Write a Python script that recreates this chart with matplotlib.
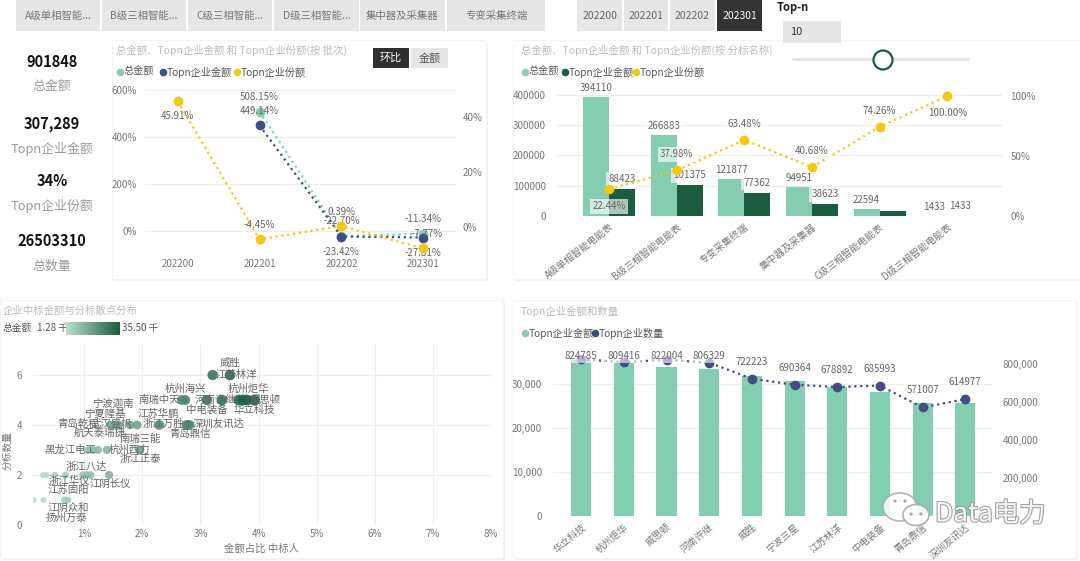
import numpy as np
import matplotlib
matplotlib.use("Agg")
import matplotlib.pyplot as plt
import matplotlib.patheffects as pe
from matplotlib.patches import Rectangle, Circle, Ellipse
from matplotlib.colors import LinearSegmentedColormap, Normalize

plt.rcParams['font.family'] = ['Noto Sans CJK SC', 'DejaVu Sans']

W, H = 1080, 561
GREEN = "#84CDB1"
DARK = "#1C5C41"
NAVY = "#404E85"
YELLOW = "#F2C811"
GRID = "#EDEDED"
TICK = "#777777"
LABEL = "#666666"

# ---- slicers / cards
category_buttons = ["A级单相智能...", "B级三相智能...", "C级三相智能...", "D级三相智能...", "集中器及采集器", "专变采集终端"]
period_buttons = ["202200", "202201", "202202", "202301"]
kpi_values = ["901848", "307,289", "34%", "26503310"]
kpi_names = ["总金额", "Topn企业金额", "Topn企业份额", "总数量"]

# ---- month over month, by period
periods = ["202200", "202201", "202202", "202301"]
mom_total = [np.nan, 508.15, -22.70, -11.34]
mom_topn = [np.nan, 449.14, -23.42, -27.81]
mom_share = [45.91, -4.45, 0.39, -7.77]

# ---- by lot
lots = ["A级单相智能电能表", "B级三相智能电能表", "专变采集终端", "集中器及采集器", "C级三相智能电能表", "D级三相智能电能表"]
lot_total = [394110, 266883, 121877, 94951, 22594, 1433]
lot_topn = [88423, 101375, 77362, 38623, 16778, 1433]
lot_share = [22.44, 37.98, 63.48, 40.68, 74.26, 100.00]

# ---- top-n firms
firms = ["华立科技", "杭州炬华", "威思顿", "河南许继", "威胜", "宁波三星", "江苏林洋", "中电装备", "青岛鼎信", "深圳友讯达"]
firm_amount = [35400, 34700, 33900, 33400, 31900, 30700, 29300, 28300, 25800, 25700]
firm_count = [824785, 809416, 822004, 806329, 722223, 690364, 678892, 685993, 571007, 614977]

# ---- scatter: share of amount (%) vs number of lots
scatter_share = [3.21, 3.51,
                 2.68, 2.74, 3.11, 3.37, 3.66, 3.73, 3.80, 3.93,
                 1.45, 1.50, 1.55, 1.60, 1.79, 1.91, 2.28, 2.30, 2.76, 2.81,
                 1.07, 1.16, 1.24, 1.39, 1.96,
                 0.29, 0.35, 0.49, 0.68, 0.98, 1.05, 1.11, 1.43,
                 0.14, 0.30, 0.66, 0.72]
scatter_lots = [6, 6,
                5, 5, 5, 5, 5, 5, 5, 5,
                4, 4, 4, 4, 4, 4, 4, 4, 4, 4,
                3, 3, 3, 3, 3,
                2, 2, 2, 2, 2, 2, 2, 2,
                1, 1, 1, 1]
scatter_names = ["江苏林洋", "威胜",
                 "南瑞中天", "杭州海兴", "中电装备", "河南许继", "杭州炬华", "宁波三星", "威思顿", "华立科技",
                 "青岛乾程", "武汉盛帆", "宁夏隆基", "宁波迦南", "航天泰瑞捷", "南瑞三能", "浙江万胜", "江苏华鹏", "青岛鼎信", "深圳友讯达",
                 "黑龙江电工", "", "", "杭州西力", "浙江正泰",
                 "", "", "", "浙江华仪", "江苏固阳", "浙江八达", "", "江阴长仪",
                 "", "", "扬州万泰", "江阴众和"]
# label placement (pixels, dx right / dy up)
label_offsets = {
    "江苏林洋": (24, 0), "威胜": (0, 12), "南瑞中天": (-23, 0), "杭州海兴": (0, 11),
    "中电装备": (0, -10), "河南许继": (-7, 0), "杭州炬华": (10, 11), "威思顿": (18, 0),
    "华立科技": (0, -10), "青岛乾程": (-32, 1), "武汉盛帆": (-2, 1), "宁夏隆基": (-11, 11),
    "宁波迦南": (-6, 21), "航天泰瑞捷": (-30, -8), "南瑞三能": (3, -14), "浙江万胜": (5, 1),
    "江苏华鹏": (-1, 11), "青岛鼎信": (4, -9), "深圳友讯达": (29, 1), "黑龙江电工": (-18, 0),
    "杭州西力": (23, 0), "浙江正泰": (0, -9), "浙江华仪": (4, -6), "江苏固阳": (-15, -15),
    "浙江八达": (-1, 8), "江阴长仪": (1, -9), "扬州万泰": (2, -18), "江阴众和": (0, -8),
}

PT = 72 / 100  # pixel -> point


def rect(x0, y0, x1, y1):
    return [x0 / W, 1 - y1 / H, (x1 - x0) / W, (y1 - y0) / H]


def clean(ax):
    for s in ax.spines.values():
        s.set_visible(False)
    ax.tick_params(length=0, colors=TICK, labelsize=7)
    ax.set_facecolor("none")


fig = plt.figure(figsize=(W / 100, H / 100), dpi=100)
fig.patch.set_facecolor("white")

bg = fig.add_axes([0, 0, 1, 1])
bg.set_xlim(0, W)
bg.set_ylim(H, 0)
bg.axis("off")

# panels
for x0, y0, x1, y1 in [(112, 40, 486, 279), (513, 40, 1080, 279), (0, 300, 503, 558), (513, 300, 1076, 558)]:
    bg.add_patch(Rectangle((x0 + 2, y0 + 2), x1 - x0, y1 - y0, fc="#F1F1F1", ec="none"))
    bg.add_patch(Rectangle((x0, y0), x1 - x0, y1 - y0, fc="white", ec="#F4F4F4", lw=0.8))

# slicer buttons
btn_x = [(16, 100), (102, 186), (188, 272), (274, 359), (360, 445), (447, 545)]
for (x0, x1), lab in zip(btn_x, category_buttons):
    bg.add_patch(Rectangle((x0, 0), x1 - x0, 31, fc="#E6E6E6", ec="none"))
    bg.text((x0 + x1) / 2, 16, lab, ha="center", va="center", fontsize=7.5, color="#777777", style="italic")
per_x = [(577, 622), (624, 668), (670, 715), (717, 762)]
for (x0, x1), lab in zip(per_x, period_buttons):
    sel = lab == "202301"
    bg.add_patch(Rectangle((x0, 0), x1 - x0, 31, fc="#333333" if sel else "#E6E6E6", ec="none"))
    bg.text((x0 + x1) / 2, 16, lab, ha="center", va="center", fontsize=7.5,
            color="white" if sel else "#666666", style="italic")

bg.text(777, 7, "Top-n", ha="left", va="center", fontsize=8, fontweight="bold", color="#222222")
bg.add_patch(Rectangle((783, 21), 58, 22, fc="#E6E6E6", ec="none"))
bg.text(790, 32, "10", ha="left", va="center", fontsize=8, color="#333333")
bg.plot([793, 968], [59, 59], color="#E3E3E3", lw=2, solid_capstyle="round")
bg.add_patch(Circle((883, 60), 9.5, fc="white", ec=DARK, lw=1.6, zorder=5))

# KPI cards
kpi_y = [62, 124, 181, 241]
for yv, v, n in zip(kpi_y, kpi_values, kpi_names):
    bg.text(52, yv, v, ha="center", va="center", fontsize=10.5, fontweight="bold", color="#111111")
    bg.text(52, yv + 25, n, ha="center", va="center", fontsize=9.3, color="#9A9A9A")


def legend(y, items):
    for lx, color, txt in items:
        bg.scatter([lx], [y], s=30, color=color, zorder=4, lw=0)
        bg.text(lx + 4, y, txt, ha="left", va="center", fontsize=7.3, color="#555555")


# ================= top-left: month-over-month =================
bg.text(116, 50, "总金额、Topn企业金额 和 Topn企业份额(按 批次)", fontsize=7.5, color="#BBBBBB", va="center")
bg.add_patch(Rectangle((373, 48), 36, 20, fc="#2F2F2F", ec="none"))
bg.text(391, 58, "环比", ha="center", va="center", fontsize=8, color="white")
bg.add_patch(Rectangle((411, 48), 37, 20, fc="#E6E6E6", ec="none"))
bg.text(429.5, 58, "金额", ha="center", va="center", fontsize=8, color="#555555")
legend(72, [(120, GREEN, "总金额"), (163, NAVY, "Topn企业金额"), (237, YELLOW, "Topn企业份额")])

ax1 = fig.add_axes(rect(145, 90, 456, 254.5))
clean(ax1)
xp = np.arange(len(periods))
ax1.set_xlim(-0.4, 3.4)
ax1.set_ylim(-100, 600)
ax1.set_yticks([0, 200, 400, 600])
ax1.set_yticklabels([f"{v}%" for v in [0, 200, 400, 600]])
ax1.set_xticks(xp)
ax1.set_xticklabels(periods)
ax1.tick_params(axis="x", pad=3)
ax1.tick_params(axis="y", pad=6)
ax1.grid(axis="y", color=GRID, lw=0.9)
ax1.set_axisbelow(True)
ax1.plot(xp, mom_total, ls=":", color=GREEN, lw=1.6, marker="o", ms=6, zorder=3)
ax1.plot(xp, mom_topn, ls=":", color=NAVY, lw=1.6, marker="o", ms=6, zorder=3)
ax1r = ax1.twinx()
clean(ax1r)
ax1r.set_ylim(-10, 50)
ax1r.set_yticks([0, 20, 40])
ax1r.set_yticklabels(["0%", "20%", "40%"])
ax1r.tick_params(axis="y", pad=5)
ax1r.plot(xp, mom_share, ls=":", color=YELLOW, lw=1.6, marker="o", ms=6, zorder=3)

lbl = dict(ha="center", va="center", fontsize=7, color=LABEL, textcoords="offset points")
for i, v in enumerate(mom_total):
    if not np.isnan(v):
        ax1.annotate(f"{v:.2f}%", (i, v), xytext=(0, 15 * PT), **lbl)
for i, v in enumerate(mom_topn):
    if not np.isnan(v):
        dy = 14 if i == 1 else -15
        ax1.annotate(f"{v:.2f}%", (i, v), xytext=(0, dy * PT), **lbl)
for i, v in enumerate(mom_share):
    dy = -15 if i == 0 else 14
    dx = 4 if i == 3 else 0
    ax1r.annotate(f"{v:.2f}%", (i, v), xytext=(dx * PT, dy * PT), **lbl)

# ================= top-right: by lot =================
bg.text(521, 50, "总金额、Topn企业金额 和 Topn企业份额(按 分标名称)", fontsize=7.5, color="#BBBBBB", va="center")
legend(72, [(525, GREEN, "总金额"), (565, DARK, "Topn企业金额"), (636, YELLOW, "Topn企业份额")])

ax2 = fig.add_axes(rect(557, 90, 1002, 216))
clean(ax2)
xl = np.arange(len(lots))
bw = 0.385
ax2.set_xlim(-0.77, 5.81)
ax2.set_ylim(0, 416500)
ax2.set_yticks([0, 100000, 200000, 300000, 400000])
ax2.set_yticklabels(["0", "100000", "200000", "300000", "400000"])
ax2.tick_params(axis="y", pad=8)
ax2.grid(axis="y", color=GRID, lw=0.9)
ax2.set_axisbelow(True)
ax2.bar(xl - bw / 2, lot_total, bw, color=GREEN, zorder=2)
ax2.bar(xl + bw / 2, lot_topn, bw, color=DARK, zorder=2)
ax2.set_xticks(xl)
ax2.set_xticklabels(lots, rotation=38, ha="right", va="top", rotation_mode="anchor", fontsize=7)
ax2.tick_params(axis="x", pad=4)
box = dict(boxstyle="square,pad=0.25", fc="white", ec="none", alpha=0.65)
for i, v in enumerate(lot_total):
    ax2.annotate(str(v), (i - bw / 2, v), xytext=(0, 9 * PT), bbox=box, **lbl)
for i, v in enumerate(lot_topn):
    if i != 4:
        ax2.annotate(str(v), (i + bw / 2, v), xytext=(0, 10 * PT), bbox=box, **lbl)
ax2r = ax2.twinx()
clean(ax2r)
ax2r.set_ylim(0, 1.05)
ax2r.set_yticks([0, 0.5, 1.0])
ax2r.set_yticklabels(["0%", "50%", "100%"])
ax2r.tick_params(axis="y", pad=6)
share_frac = [v / 100 for v in lot_share]
ax2r.plot(xl, share_frac, ls=":", color=YELLOW, lw=1.6, marker="o", ms=6, zorder=3)
for i, v in enumerate(share_frac):
    dy = -17 if i in (0, 5) else 16
    ax2r.annotate(f"{lot_share[i]:.2f}%", (i, v), xytext=(0, dy * PT), bbox=box, **lbl)

# ================= bottom-left: scatter =================
bg.text(3, 311, "企业中标金额与分标散点分布", fontsize=7.5, color="#BBBBBB", va="center")
bg.text(3, 328, "总金额", fontsize=7, color="#555555", va="center")
bg.text(37, 328, "1.28 千", fontsize=7, color="#555555", va="center")
bg.text(122, 328, "35.50 千", fontsize=7, color="#555555", va="center")
cmap = LinearSegmentedColormap.from_list("grn", ["#B7E2CF", "#1D5A3F"])
axc = fig.add_axes(rect(66, 322, 120, 335))
axc.imshow(np.linspace(0, 1, 64)[None, :], aspect="auto", cmap=cmap)
axc.axis("off")

ax3 = fig.add_axes(rect(33, 345, 491, 525))
clean(ax3)
ax3.set_xlim(0.12, 8.0)
ax3.set_ylim(0, 7.2)
ax3.set_xticks(range(1, 9))
ax3.set_xticklabels([f"{v}%" for v in range(1, 9)])
ax3.set_yticks([0, 2, 4, 6])
ax3.tick_params(axis="y", pad=8)
ax3.tick_params(axis="x", pad=3)
ax3.grid(color=GRID, lw=0.9)
ax3.set_axisbelow(True)
sh = np.array(scatter_share)
norm = Normalize(vmin=sh.min(), vmax=sh.max())
diam = 4 + 7 * np.sqrt(sh / sh.max())
ax3.scatter(sh, scatter_lots, s=(diam * PT) ** 2, c=sh, cmap=cmap, norm=norm, alpha=0.9, lw=0, zorder=3)
for xs, ys, name in zip(scatter_share, scatter_lots, scatter_names):
    if name in label_offsets:
        dx, dy = label_offsets[name]
        ax3.annotate(name, (xs, ys), xytext=(dx * PT, dy * PT), textcoords="offset points",
                     ha="center", va="center", fontsize=7.5, color="#666666", zorder=4)
ax3.set_xlabel("金额占比 中标人", fontsize=7.5, color="#777777", labelpad=3)
bg.text(7, 450, "分标数量", rotation=90, fontsize=7, color="#777777", ha="center", va="center")

# ================= bottom-right: top-n firms =================
bg.text(521, 311, "Topn企业金额和数量", fontsize=7.5, color="#BBBBBB", va="center")
legend(333, [(525, GREEN, "Topn企业金额"), (595, NAVY, "Topn企业数量")])

ax4 = fig.add_axes(rect(553, 355, 993, 516))
clean(ax4)
xf = np.arange(len(firms))
ax4.set_xlim(-0.66, 9.65)
ax4.set_ylim(0, 36600)
ax4.set_yticks([0, 10000, 20000, 30000])
ax4.set_yticklabels(["0", "10,000", "20,000", "30,000"])
ax4.tick_params(axis="y", pad=8)
ax4.grid(axis="y", color=GRID, lw=0.9)
ax4.set_axisbelow(True)
ax4.bar(xf, firm_amount, 0.47, color=GREEN, zorder=2)
ax4.set_xticks(xf)
ax4.set_xticklabels(firms, rotation=40, ha="right", va="top", rotation_mode="anchor", fontsize=7)
ax4.tick_params(axis="x", pad=4)
ax4r = ax4.twinx()
clean(ax4r)
ax4r.set_ylim(0, 847000)
ax4r.set_yticks([0, 200000, 400000, 600000, 800000])
ax4r.set_yticklabels(["0", "200,000", "400,000", "600,000", "800,000"])
ax4r.tick_params(axis="y", pad=7)
ax4r.plot(xf, firm_count, ls=":", color=NAVY, lw=1.6, marker="o", ms=6, zorder=3)
for i, v in enumerate(firm_count):
    ax4r.annotate(str(v), (i, v), xytext=(i, min(v + 89500, 842000)), textcoords="data",
                  ha="center", va="center", fontsize=7, color=LABEL,
                  bbox=dict(boxstyle="square,pad=0.2", fc="white", ec="none", alpha=0.6))

# watermark
wm = fig.add_axes([0, 0, 1, 1], zorder=10)
wm.set_xlim(0, W)
wm.set_ylim(H, 0)
wm.axis("off")
wm.add_patch(Ellipse((900, 507), 34, 28, fc="white", ec="#A8A8A8", lw=1.2, alpha=0.85))
wm.add_patch(Ellipse((916, 515), 26, 21, fc="white", ec="#A8A8A8", lw=1.2, alpha=0.9))
for ex, ey in [(895, 501), (905, 501), (911, 514), (921, 514)]:
    wm.add_patch(Circle((ex, ey), 1.6, fc="#A8A8A8", ec="none"))
wm.text(935, 514, "Data电力", fontsize=19, color="white", alpha=0.9, ha="left", va="center",
        path_effects=[pe.withStroke(linewidth=1.6, foreground="#9A9A9A")])

fig.savefig("out.png", dpi=100, facecolor="white")
